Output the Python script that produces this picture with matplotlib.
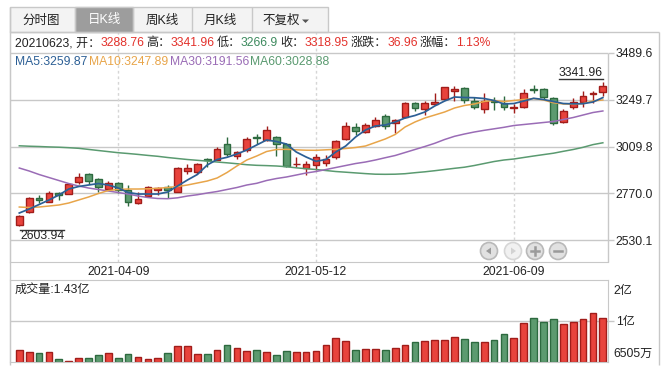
import numpy as np
import matplotlib
matplotlib.use('Agg')
import matplotlib.pyplot as plt
from matplotlib.patches import Rectangle, Circle, Polygon
import matplotlib.transforms as mtrans

# ---------------- data ----------------
dates = ['2021-03-25', '2021-03-26', '2021-03-29', '2021-03-30', '2021-03-31',
         '2021-04-01', '2021-04-02', '2021-04-06', '2021-04-07', '2021-04-08',
         '2021-04-09', '2021-04-12', '2021-04-13', '2021-04-14', '2021-04-15',
         '2021-04-16', '2021-04-19', '2021-04-20', '2021-04-21', '2021-04-22',
         '2021-04-23', '2021-04-26', '2021-04-27', '2021-04-28', '2021-04-29',
         '2021-04-30', '2021-05-06', '2021-05-07', '2021-05-10', '2021-05-11',
         '2021-05-12', '2021-05-13', '2021-05-14', '2021-05-17', '2021-05-18',
         '2021-05-19', '2021-05-20', '2021-05-21', '2021-05-24', '2021-05-25',
         '2021-05-26', '2021-05-27', '2021-05-28', '2021-05-31', '2021-06-01',
         '2021-06-02', '2021-06-03', '2021-06-04', '2021-06-07', '2021-06-08',
         '2021-06-09', '2021-06-10', '2021-06-11', '2021-06-15', '2021-06-16',
         '2021-06-17', '2021-06-18', '2021-06-21', '2021-06-22', '2021-06-23']

open_ = [2608.3, 2673.2, 2746.4, 2727.5, 2770.2, 2768.4, 2829.8, 2869.1, 2842.0, 2793.9,
         2821.6, 2786.3, 2719.2, 2759.2, 2789.8, 2801.1, 2779.6, 2884.5, 2877.8, 2944.3,
         2943.3, 3022.6, 2963.8, 2994.5, 3058.4, 3045.1, 3059.9, 3021.1, 2920.3, 2902.4,
         2913.6, 2923.9, 2958.6, 3050.7, 3108.0, 3086.5, 3116.2, 3165.8, 3131.5, 3159.2,
         3230.8, 3200.6, 3228.2, 3251.8, 3295.2, 3311.6, 3244.1, 3200.6, 3245.1, 3230.8,
         3209.3, 3213.4, 3306.5, 3302.9, 3260.4, 3136.6, 3213.4, 3239.0, 3276.0, 3288.76]
high = [2659.4, 2753.0, 2761.7, 2782.2, 2777.1, 2821.6, 2872.7, 2875.8, 2850.2, 2834.9,
        2829.8, 2811.3, 2778.6, 2807.8, 2804.2, 2812.9, 2903.4, 2922.8, 2925.4, 2952.5,
        3005.7, 3056.9, 2988.3, 3059.4, 3073.7, 3113.1, 3063.5, 3026.2, 2957.6, 2934.1,
        2970.4, 2968.9, 3043.0, 3134.1, 3128.5, 3128.5, 3160.7, 3174.5, 3153.0, 3237.4,
        3235.9, 3245.1, 3286.0, 3315.7, 3319.3, 3315.7, 3262.0, 3283.5, 3264.5, 3268.1,
        3229.7, 3302.9, 3323.4, 3307.5, 3264.5, 3200.1, 3260.4, 3293.7, 3293.7, 3341.96]
low = [2603.94, 2671.2, 2722.4, 2724.4, 2734.6, 2765.3, 2819.5, 2816.4, 2778.6, 2787.3,
       2773.5, 2708.0, 2715.7, 2753.0, 2761.7, 2748.9, 2775.5, 2871.7, 2871.7, 2904.9,
       2939.2, 2961.2, 2947.4, 2981.7, 3022.6, 3036.4, 2963.8, 2906.5, 2903.4, 2863.0,
       2892.1, 2912.6, 2944.3, 3043.0, 3071.2, 3078.9, 3112.1, 3097.8, 3081.4, 3154.0,
       3190.4, 3170.9, 3223.1, 3247.7, 3244.1, 3230.8, 3200.1, 3182.7, 3199.0, 3196.5,
       3181.2, 3209.3, 3283.5, 3253.8, 3122.3, 3132.6, 3200.1, 3210.3, 3232.3, 3266.9]
close = [2654.3, 2744.9, 2734.6, 2770.2, 2760.2, 2816.4, 2853.8, 2834.9, 2804.2, 2824.6,
         2787.3, 2724.4, 2741.3, 2804.2, 2796.0, 2786.3, 2898.3, 2898.3, 2919.3, 2939.2,
         2997.0, 2972.5, 2984.2, 3049.7, 3055.4, 3092.6, 3021.1, 2911.6, 2922.8, 2922.8,
         2957.6, 2945.9, 3036.4, 3113.1, 3090.6, 3118.2, 3145.4, 3117.2, 3145.4, 3232.3,
         3205.2, 3230.8, 3236.4, 3312.6, 3302.9, 3247.7, 3210.3, 3244.1, 3237.4, 3214.4,
         3212.8, 3286.0, 3299.8, 3265.5, 3128.5, 3191.4, 3239.0, 3270.7, 3281.99, 3318.95]

# volume in 亿 (axis: 0 .. 2)
volume = [0.279, 0.230, 0.206, 0.230, 0.059, 0.017, 0.083, 0.083, 0.164, 0.206,
          0.083, 0.188, 0.108, 0.059, 0.083, 0.206, 0.384, 0.384, 0.188, 0.188,
          0.279, 0.409, 0.328, 0.255, 0.279, 0.230, 0.164, 0.255, 0.230, 0.230,
          0.255, 0.409, 0.573, 0.514, 0.279, 0.304, 0.304, 0.279, 0.328, 0.409,
          0.475, 0.499, 0.524, 0.524, 0.597, 0.548, 0.475, 0.475, 0.524, 0.671,
          0.573, 0.940, 1.062, 0.965, 1.038, 0.916, 0.965, 1.038, 1.185, 1.062]

ma5 = [2669.7, 2690.1, 2713.1, 2736.2, 2761.7, 2792.4, 2805.2, 2812.9, 2820.5, 2812.9,
       2797.5, 2774.5, 2766.8, 2766.8, 2766.8, 2777.1, 2807.8, 2838.5, 2866.6, 2915.2,
       2943.3, 2954.6, 2971.4, 2991.9, 3017.5, 3043.1, 3035.4, 3022.6, 2981.7, 2956.1,
       2934.1, 2943.3, 2981.7, 3012.4, 3058.4, 3094.2, 3114.7, 3119.8, 3135.1, 3155.6,
       3168.4, 3186.3, 3217.0, 3242.5, 3263.0, 3260.4, 3259.4, 3255.3, 3245.1, 3227.2,
       3229.7, 3242.5, 3256.3, 3250.2, 3240.0, 3229.7, 3228.2, 3228.7, 3237.4, 3259.87]
ma10 = [2700.3, 2697.8, 2700.3, 2705.4, 2710.6, 2720.8, 2736.2, 2751.5, 2769.4, 2784.8,
        2789.9, 2792.4, 2792.4, 2793.4, 2796.0, 2800.1, 2805.2, 2812.9, 2823.1, 2833.3,
        2848.8, 2876.8, 2910.1, 2940.8, 2961.2, 2984.2, 2994.5, 2995.5, 2992.9, 2990.9,
        2990.4, 2992.9, 2995.5, 2999.6, 3004.7, 3012.4, 3030.3, 3048.3, 3071.2, 3109.5,
        3135.1, 3155.6, 3170.9, 3186.3, 3206.7, 3219.5, 3227.2, 3240.0, 3245.1, 3240.0,
        3245.1, 3250.2, 3255.3, 3247.7, 3233.8, 3227.2, 3226.2, 3229.7, 3242.5, 3247.89]
ma30 = [2899.8, 2884.5, 2866.6, 2851.2, 2835.9, 2820.5, 2807.8, 2797.5, 2789.9, 2782.2,
        2774.5, 2766.8, 2756.6, 2748.9, 2743.9, 2742.8, 2747.4, 2756.6, 2763.2, 2771.9,
        2779.6, 2789.9, 2800.1, 2812.9, 2821.6, 2835.9, 2846.1, 2853.8, 2864.0, 2874.3,
        2881.9, 2892.1, 2902.4, 2912.6, 2922.8, 2930.5, 2940.8, 2952.5, 2963.8, 2979.1,
        2994.5, 3009.8, 3026.2, 3045.6, 3062.0, 3073.7, 3084.0, 3092.6, 3100.3, 3108.0,
        3117.2, 3122.3, 3127.4, 3132.6, 3137.7, 3147.9, 3158.1, 3170.9, 3183.7, 3191.56]
ma60 = [3013.4, 3011.3, 3009.8, 3007.7, 3006.2, 3003.7, 3000.6, 2995.0, 2989.3, 2983.7,
        2978.1, 2974.0, 2969.4, 2964.3, 2959.7, 2953.6, 2948.4, 2943.3, 2939.2, 2935.1,
        2930.5, 2926.4, 2921.8, 2916.7, 2913.6, 2912.1, 2910.1, 2906.5, 2900.8, 2896.2,
        2892.1, 2887.0, 2881.9, 2878.4, 2874.8, 2871.2, 2868.2, 2867.6, 2868.2, 2870.7,
        2875.8, 2880.4, 2886.0, 2892.1, 2898.3, 2903.9, 2912.6, 2922.8, 2933.0, 2940.8,
        2945.9, 2953.6, 2961.2, 2968.4, 2975.5, 2985.2, 2994.5, 3005.7, 3019.5, 3028.88]

price_ticks = [2530.1, 2770.0, 3009.8, 3249.7, 3489.6]
date_ticks = ['2021-04-09', '2021-05-12', '2021-06-09']
vol_ticks = [0, 1, 2]
vol_tick_labels = ['6505万', '1亿', '2亿']
tabs = ['分时图', '日K线', '周K线', '月K线', '不复权']
vol_label = '成交量:1.43亿'

# ---------------- style ----------------
plt.rcParams['font.family'] = ['Liberation Sans', 'Noto Sans CJK SC']
FS = 8.7
TXT = '#222222'
RED_T = '#e3322c'
GREEN_T = '#3d8a5e'
UP_FILL, UP_EDGE = '#e8433c', '#a11d1a'
DN_FILL, DN_EDGE = '#5c9a6f', '#2d6a3f'
GRID = '#c8c8c8'
C5, C10, C30, C60 = '#2c5f95', '#e8a54a', '#9a6cb6', '#5a9a70'

W, H = 668, 373
fig = plt.figure(figsize=(W / 100, H / 100), dpi=100)
fig.patch.set_facecolor('white')


def frect(x0, y0, x1, y1):
    return [x0 / W, 1 - y1 / H, (x1 - x0) / W, (y1 - y0) / H]


ax = fig.add_axes(frect(10, 32, 608, 262))
axv = fig.add_axes(frect(10, 280, 608, 361.7))
ov = fig.add_axes([0, 0, 1, 1], zorder=10)
ov.set_xlim(0, W)
ov.set_ylim(H, 0)
ov.axis('off')
ov.patch.set_visible(False)

n = len(close)
xs = np.arange(n)
o = np.array(open_); c = np.array(close)
up = c >= o

# ---------------- price panel ----------------
ax.set_xlim(-0.94, n - 0.48)
ax.set_ylim(2419.1, 3595.5)
for t in price_ticks:
    ax.axhline(t, color=GRID, lw=1, zorder=0)
date_idx = [dates.index(d) for d in date_ticks]
for d in date_idx:
    ax.axvline(d, color='#d6d6d6', lw=1, ls=(0, (2, 2)), zorder=0)

for i in range(n):
    fc, ec = (UP_FILL, UP_EDGE) if up[i] else (DN_FILL, DN_EDGE)
    ax.vlines(i, low[i], high[i], color=ec, lw=1, zorder=2)
    b0 = min(o[i], c[i])
    h = max(abs(c[i] - o[i]), 0.5)
    ax.add_patch(Rectangle((i - 0.34, b0), 0.68, h, facecolor=fc,
                           edgecolor=ec, lw=1, zorder=3))

ax.plot(xs, ma60, color=C60, lw=1.1, zorder=4)
ax.plot(xs, ma30, color=C30, lw=1.1, zorder=4)
ax.plot(xs, ma10, color=C10, lw=1.1, zorder=4)
ax.plot(xs, ma5, color=C5, lw=1.25, zorder=4)

ax.yaxis.tick_right()
ax.set_yticks(price_ticks)
ax.set_yticklabels([f'{t:.1f}' for t in price_ticks])
ax.tick_params(axis='y', length=4, width=1, color=GRID, pad=1.5,
               labelsize=FS, labelcolor=TXT)
ax.set_xticks(date_idx)
ax.set_xticklabels(date_ticks)
ax.tick_params(axis='x', length=0, pad=3, labelsize=FS, labelcolor=TXT)
for s in ['left', 'top', 'bottom']:
    ax.spines[s].set_color(GRID)
ax.spines['right'].set_visible(False)

li = int(np.argmin(low))
hi = int(np.argmax(high))
t_low = ax.annotate(f'{low[li]:.2f}', xy=(li, low[li]), xytext=(1, -10),
                    textcoords='offset pixels', ha='left', va='center',
                    fontsize=FS, color=TXT, zorder=6)
t_high = ax.annotate(f'{high[hi]:.2f}', xy=(hi, high[hi]), xytext=(0, 8.5),
                     textcoords='offset pixels', ha='right', va='center',
                     fontsize=FS, color=TXT, zorder=6)

# ---------------- volume panel ----------------
axv.set_xlim(-0.94, n - 0.48)
axv.set_ylim(vol_ticks[0], vol_ticks[-1])
axv.axhline(vol_ticks[1], color=GRID, lw=1, zorder=0)
axv.bar(xs, volume, width=0.68,
        color=[UP_FILL if u else DN_FILL for u in up],
        edgecolor=[UP_EDGE if u else DN_EDGE for u in up], lw=1, zorder=2)
axv.set_xticks([])
axv.yaxis.tick_right()
axv.set_yticks([vol_ticks[1]])
axv.set_yticklabels([vol_tick_labels[1]])
axv.tick_params(axis='y', length=4, width=1, color=GRID, pad=1.5,
                labelsize=FS, labelcolor=TXT)
for s in axv.spines.values():
    s.set_color(GRID)
btr = mtrans.blended_transform_factory(axv.transAxes, axv.transData)
axv.text(1.0, vol_ticks[2], vol_tick_labels[2], fontsize=FS, color=TXT,
         ha='left', va='center',
         transform=btr + mtrans.ScaledTranslation(0.055, -0.11, fig.dpi_scale_trans))
axv.text(1.0, vol_ticks[0], vol_tick_labels[0], fontsize=FS, color=TXT,
         ha='left', va='center',
         transform=btr + mtrans.ScaledTranslation(0.055, 0.077, fig.dpi_scale_trans))
axv.text(5 / 598, 0.878, vol_label, transform=axv.transAxes, fontsize=FS,
         color=TXT, ha='left', va='center')

# ---------------- frame / decorations ----------------
L = dict(color=GRID, lw=1, solid_capstyle='butt')
ov.plot([10, 659], [32, 32], **L)
ov.plot([10, 10], [7, 365], **L)
ov.plot([659, 659], [32, 365], **L)
ov.plot([608, 608], [52.7, 262], **L)

# tabs
ov.add_patch(Rectangle((10, 7), 318, 25, facecolor='#f3f3f3', edgecolor=GRID, lw=1))
ov.add_patch(Rectangle((75, 7), 58, 25, facecolor='#9d9d9d', edgecolor=GRID, lw=1))
for xsep in [75, 133, 192, 252]:
    ov.plot([xsep, xsep], [7, 32], **L)
tab_cx = [41, 104, 162, 220, 281]
for k, (lab, cx) in enumerate(zip(tabs, tab_cx)):
    ov.text(cx, 20.5, lab, fontsize=FS + 0.3, ha='center', va='center',
            color='white' if k == 1 else TXT)
ov.add_patch(Polygon([[302, 19.5], [309, 19.5], [305.5, 23]], closed=True,
                     facecolor='#555555', edgecolor='none'))

# info rows
fig.canvas.draw()
renderer = fig.canvas.get_renderer()


def seq_text(x, y, parts):
    for s, col, gap in parts:
        t = ov.text(x, y, s, fontsize=FS, color=col, ha='left', va='center')
        bb = t.get_window_extent(renderer)
        x += bb.width + gap


def fmt(v):
    return f'{v:.2f}'.rstrip('0').rstrip('.')


chg = close[-1] - close[-2]
pct = chg / close[-2] * 100
row1 = [(dates[-1].replace('-', '') + ', 开：', TXT, 0),
        (fmt(open_[-1]), RED_T, 2.2),
        ('高：', TXT, 0), (fmt(high[-1]), RED_T, 2.2),
        ('低：', TXT, 0), (fmt(low[-1]), GREEN_T, 2.2),
        ('收：', TXT, 0), (fmt(close[-1]), RED_T, 2.2),
        ('涨跌：', TXT, 0), (f'{chg:.2f}', RED_T, 2.2),
        ('涨幅：', TXT, 0), (f'{pct:.2f}%', RED_T, 0)]
seq_text(15, 43, row1)
row2 = [(f'MA5:{ma5[-1]:.2f}', C5, 1.5), (f'MA10:{ma10[-1]:.2f}', C10, 1.5),
        (f'MA30:{ma30[-1]:.2f}', C30, 1.5), (f'MA60:{ma60[-1]:.2f}', C60, 0)]
seq_text(15, 62, row2)

# lines over / under the extreme labels
for t, sign in [(t_low, 1), (t_high, -1)]:
    bb = t.get_window_extent(renderer)
    if sign > 0:
        yl = H - bb.y1 + 0.5
    else:
        yl = H - bb.y0 - 0.5
    ov.plot([bb.x0, bb.x1], [yl, yl], color='#333333', lw=1)

# navigation buttons
bx = [489, 513, 535, 558]
by = 251
for k, cx in enumerate(bx):
    faded = (k == 1)
    ov.add_patch(Circle((cx, by), 8.5, facecolor='#f1f1f1' if faded else '#e1e1e1',
                        edgecolor='#d6d6d6' if faded else '#b9b9b9', lw=1.2))
    ic = '#d2d2d2' if faded else '#9a9a9a'
    if k == 0:
        ov.add_patch(Polygon([[cx - 3, by], [cx + 2, by - 3.5], [cx + 2, by + 3.5]],
                             facecolor=ic, edgecolor='none'))
    elif k == 1:
        ov.add_patch(Polygon([[cx + 3, by], [cx - 2, by - 3.5], [cx - 2, by + 3.5]],
                             facecolor=ic, edgecolor='none'))
    elif k == 2:
        ov.plot([cx - 4, cx + 4], [by, by], color=ic, lw=1.8)
        ov.plot([cx, cx], [by - 4, by + 4], color=ic, lw=1.8)
    else:
        ov.plot([cx - 4, cx + 4], [by, by], color=ic, lw=1.8)

fig.savefig('out.png', dpi=100)
